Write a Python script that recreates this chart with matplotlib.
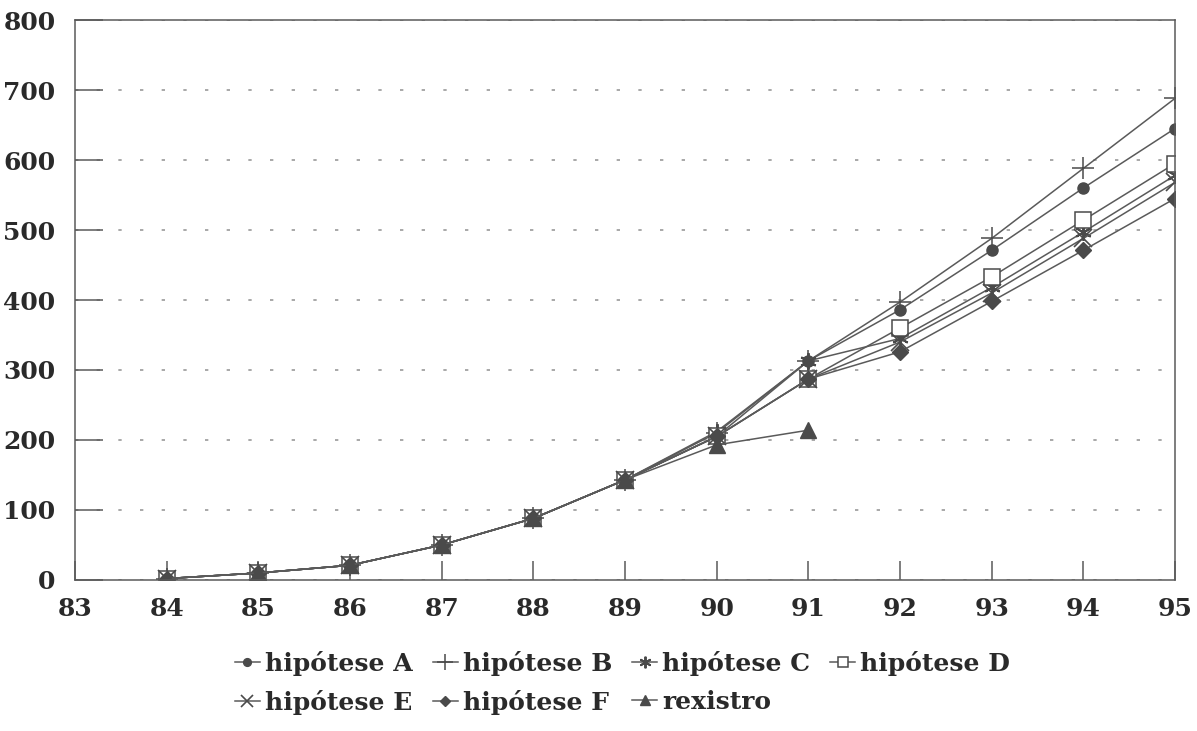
import matplotlib
matplotlib.use("Agg")
import matplotlib.pyplot as plt

# dane
anos = [84, 85, 86, 87, 88, 89, 90, 91, 92, 93, 94, 95]
hip_a = [2, 10, 21, 50, 88, 143, 205, 313, 386, 471, 560, 645]
hip_b = [2, 10, 21, 50, 88, 143, 210, 313, 397, 488, 588, 688]
hip_c = [2, 10, 21, 50, 88, 143, 212, 313, 345, 418, 497, 578]
hip_d = [2, 10, 21, 50, 88, 143, 205, 287, 360, 433, 514, 595]
hip_e = [2, 10, 21, 50, 88, 143, 205, 287, 340, 410, 488, 568]
hip_f = [2, 10, 21, 50, 88, 143, 205, 287, 326, 398, 471, 545]
anos_rex = [84, 85, 86, 87, 88, 89, 90, 91]
rexistro = [2, 10, 21, 50, 88, 143, 193, 214]

etiquetas = ['hipótese A', 'hipótese B', 'hipótese C', 'hipótese D',
             'hipótese E', 'hipótese F', 'rexistro']

cor_linha = '#5a5a5a'
cor_marca = '#4a4a4a'
cor_texto = '#2a2a2a'

plt.rcParams['font.family'] = ['DejaVu Serif']

fig = plt.figure(figsize=(11.97, 7.31), dpi=100)
ax = fig.add_axes([0.0627, 0.2066, 0.9189, 0.766])

comum = dict(color=cor_linha, linewidth=1.1, markeredgecolor=cor_marca)
la, = ax.plot(anos, hip_a, marker='o', markersize=8, markerfacecolor=cor_marca, **comum)
lb, = ax.plot(anos, hip_b, marker='+', markersize=16, markeredgewidth=1.1, **comum)
lc, = ax.plot(anos, hip_c, marker=(6, 2, 0), markersize=12, markeredgewidth=1.4, **comum)
ld, = ax.plot(anos, hip_d, marker='s', markersize=11, markerfacecolor='white', markeredgewidth=1.1, **comum)
le, = ax.plot(anos, hip_e, marker='x', markersize=13, markeredgewidth=1.2, **comum)
lf, = ax.plot(anos, hip_f, marker='D', markersize=8, markerfacecolor=cor_marca, **comum)
lr, = ax.plot(anos_rex, rexistro, marker='^', markersize=11, markerfacecolor=cor_marca, **comum)

ax.set_xlim(83, 95)
ax.set_ylim(0, 800)
ax.set_xticks(range(83, 96))
ax.set_yticks(range(0, 801, 100))

# siatka kropkowana
ax.grid(axis='y', color='#9a9a9a', linestyle=(0, (2, 11)), linewidth=1.2)
ax.set_axisbelow(True)

ax.tick_params(axis='both', direction='in', colors=cor_linha, labelcolor=cor_texto,
               labelsize=18, width=1.1)
ax.tick_params(axis='y', length=20, pad=14)
ax.tick_params(axis='x', length=14, pad=12)
for lab in ax.get_xticklabels() + ax.get_yticklabels():
    lab.set_fontweight('bold')

for s in ax.spines.values():
    s.set_color(cor_linha)
    s.set_linewidth(1.1)

# legenda: kolejność dla ncol=4 (wypełnianie kolumnami)
uchwyty = [la, le, lb, lf, lc, lr, ld]
teksty = [etiquetas[0], etiquetas[4], etiquetas[1], etiquetas[5],
          etiquetas[2], etiquetas[6], etiquetas[3]]
leg = fig.legend(uchwyty, teksty, loc='upper center', bbox_to_anchor=(0.52, 0.14),
                 ncol=4, frameon=False, fontsize=18, handlelength=1.0,
                 handletextpad=0.2, columnspacing=0.8, labelspacing=0.55,
                 markerscale=0.7)
for t in leg.get_texts():
    t.set_color(cor_texto)
    t.set_fontweight('bold')

fig.savefig('out.png', dpi=100)
